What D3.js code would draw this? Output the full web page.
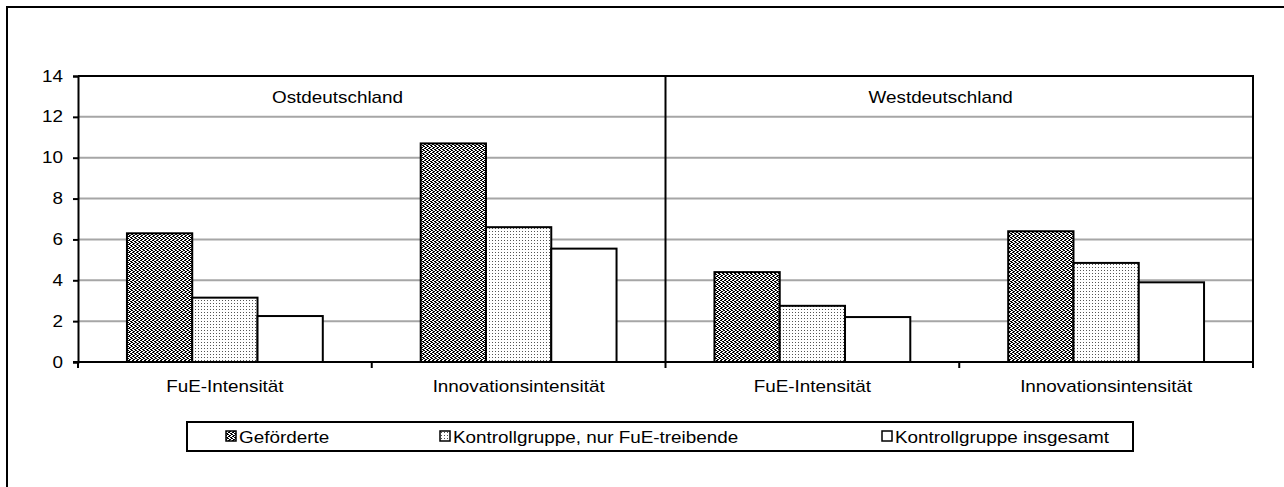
<!DOCTYPE html>
<html>
<head>
<meta charset="utf-8">
<script src="https://cdn.jsdelivr.net/npm/d3@7"></script>
<style>
  html, body { margin: 0; padding: 0; background: #fff; }
  svg { display: block; font-family: "Liberation Sans", Arial, sans-serif; }
</style>
</head>
<body>
<div id="chart"></div>
<script>
// data
const regions = ["Ostdeutschland", "Westdeutschland"];
const measures = ["FuE-Intensität", "Innovationsintensität"];
const seriesNames = ["Geförderte", "Kontrollgruppe, nur FuE-treibende", "Kontrollgruppe insgesamt"];
const gefoerderte = [6.3, 10.7, 4.4, 6.4];
const kontrollFuE = [3.15, 6.6, 2.75, 4.85];
const kontrollGesamt = [2.25, 5.55, 2.2, 3.9];
const yTicks = [0, 2, 4, 6, 8, 10, 12, 14];

const width = 1284, height = 487;
const plot = {left: 78, right: 1253, top: 76, bottom: 362};
const fontSize = 16;
const stretch = 1.18;   // the source text is a bit wider than it is tall

const svg = d3.select("#chart").append("svg")
  .attr("width", width)
  .attr("height", height);

// put a text at (x,y) and widen it horizontally
function wide(sel, x, y) {
  sel.attr("x", 0).attr("y", 0)
    .attr("font-size", fontSize)
    .attr("transform", (d, i) => `translate(${typeof x === "function" ? x(d, i) : x},${typeof y === "function" ? y(d, i) : y}) scale(${stretch},1)`);
}

// patterns for the fills
const defs = svg.append("defs");
let p1 = defs.append("pattern").attr("id", "pGef")
  .attr("patternUnits", "userSpaceOnUse").attr("width", 4).attr("height", 4);
p1.append("rect").attr("width", 4).attr("height", 4).attr("fill", "#fff");
[[0,0],[1,0],[2,1],[3,2],[0,2],[1,3],[2,3],[3,1]].forEach(d => {
  p1.append("rect").attr("x", d[0]).attr("y", d[1]).attr("width", 1).attr("height", 1).attr("fill", "#000");
});
let p2 = defs.append("pattern").attr("id", "pKon")
  .attr("patternUnits", "userSpaceOnUse").attr("width", 3).attr("height", 3);
p2.append("rect").attr("width", 3).attr("height", 3).attr("fill", "#fff");
p2.append("rect").attr("x", 0).attr("y", 0).attr("width", 1).attr("height", 1).attr("fill", "#555");

const fills = ["url(#pGef)", "url(#pKon)", "#fff"];

// outer frame (cut off at right and bottom, as in the source)
svg.append("rect")
  .attr("x", 7).attr("y", 7)
  .attr("width", width + 20).attr("height", height + 20)
  .attr("fill", "none").attr("stroke", "#000").attr("stroke-width", 2);

// scales
const groupKeys = d3.range(4);
const x0 = d3.scaleBand().domain(groupKeys).range([plot.left, plot.right]).paddingInner(0).paddingOuter(0);
const x1 = d3.scaleBand().domain(d3.range(seriesNames.length)).range([0, x0.bandwidth()]).paddingInner(0).paddingOuter(0.75);
const y = d3.scaleLinear().domain([0, 14]).range([plot.bottom, plot.top]);

// gridlines
svg.append("g")
  .selectAll("line")
  .data(yTicks.filter(t => t > 0 && t < 14))
  .join("line")
  .attr("x1", plot.left).attr("x2", plot.right)
  .attr("y1", d => y(d)).attr("y2", d => y(d))
  .attr("stroke", "#a6a6a6").attr("stroke-width", 2);

// bars
const values = [gefoerderte, kontrollFuE, kontrollGesamt];
const bars = [];
groupKeys.forEach(g => {
  values.forEach((arr, s) => bars.push({g: g, s: s, v: arr[g]}));
});
svg.append("g")
  .selectAll("rect")
  .data(bars)
  .join("rect")
  .attr("x", d => x0(d.g) + x1(d.s))
  .attr("y", d => y(d.v))
  .attr("width", x1.bandwidth())
  .attr("height", d => y(0) - y(d.v))
  .attr("fill", d => fills[d.s])
  .attr("stroke", "#000").attr("stroke-width", 2);

// plot frame: top and right border, divider
const mid = x0(2);
svg.append("path")
  .attr("d", `M${plot.left},${plot.top}H${plot.right}V${plot.bottom}`)
  .attr("fill", "none").attr("stroke", "#000").attr("stroke-width", 2);
svg.append("line")
  .attr("x1", mid).attr("x2", mid).attr("y1", plot.top).attr("y2", plot.bottom)
  .attr("stroke", "#000").attr("stroke-width", 2);

// y axis
const yAxis = svg.append("g")
  .attr("transform", `translate(${plot.left},0)`)
  .call(d3.axisLeft(y).tickValues(yTicks).tickSize(5).tickPadding(10));
yAxis.select(".domain").attr("stroke-width", 2);
yAxis.selectAll(".tick line").attr("stroke-width", 2);
yAxis.selectAll("text")
  .attr("fill", "#000")
  .attr("font-family", "Liberation Sans, Arial, sans-serif")
  .call(wide, -15, 0);

// x axis with ticks at group boundaries
svg.append("line")
  .attr("x1", plot.left - 5).attr("x2", plot.right)
  .attr("y1", plot.bottom).attr("y2", plot.bottom)
  .attr("stroke", "#000").attr("stroke-width", 2);
svg.append("g")
  .selectAll("line")
  .data(groupKeys.concat([4]))
  .join("line")
  .attr("x1", d => d < 4 ? x0(d) : plot.right)
  .attr("x2", d => d < 4 ? x0(d) : plot.right)
  .attr("y1", plot.bottom).attr("y2", plot.bottom + 6)
  .attr("stroke", "#000").attr("stroke-width", 2);
svg.append("g")
  .selectAll("text")
  .data(groupKeys)
  .join("text")
  .attr("text-anchor", "middle")
  .text(d => measures[d % 2])
  .call(wide, d => x0(d) + x0.bandwidth() / 2, 392);

// region labels
const regionX = [plot.left + 194, mid + 203];
svg.append("g")
  .selectAll("text")
  .data(regions)
  .join("text")
  .text(d => d)
  .call(wide, (d, i) => regionX[i], 103);

// legend
const legend = svg.append("g");
legend.append("rect")
  .attr("x", 187).attr("y", 422).attr("width", 946).attr("height", 29)
  .attr("fill", "#fff").attr("stroke", "#000").attr("stroke-width", 2);
const legendX = [226, 440, 882];
seriesNames.forEach((name, i) => {
  legend.append("rect")
    .attr("x", legendX[i]).attr("y", 431).attr("width", 10).attr("height", 10)
    .attr("fill", fills[i]).attr("stroke", "#000").attr("stroke-width", 1.5);
  legend.append("text")
    .text(name)
    .call(wide, legendX[i] + 13, 443);
});
</script>
</body>
</html>
